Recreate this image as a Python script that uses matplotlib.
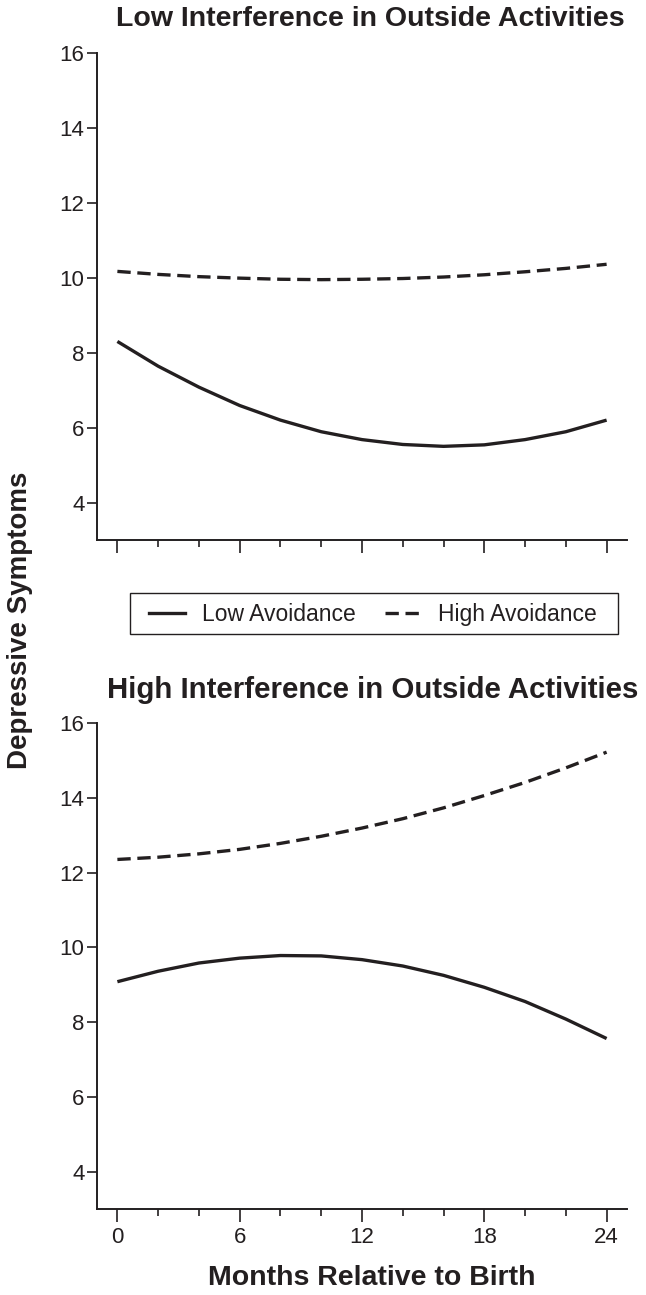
import matplotlib
matplotlib.use("Agg")
import matplotlib.pyplot as plt
from matplotlib.lines import Line2D
from matplotlib.patches import Rectangle
from matplotlib.ticker import MultipleLocator

plt.rcParams['font.family'] = ['Liberation Sans', 'DejaVu Sans']

# Months relative to birth
months = [0, 2, 4, 6, 8, 10, 12, 14, 16, 18, 20, 22, 24]

# Low interference in outside activities
low_int_low_avoid = [8.30, 7.64, 7.08, 6.59, 6.20, 5.89, 5.68, 5.55, 5.50, 5.54, 5.68, 5.89, 6.20]
low_int_high_avoid = [10.17, 10.09, 10.03, 9.99, 9.96, 9.95, 9.96, 9.98, 10.02, 10.08, 10.16, 10.25, 10.36]

# High interference in outside activities
high_int_low_avoid = [9.08, 9.36, 9.58, 9.71, 9.78, 9.77, 9.67, 9.50, 9.25, 8.93, 8.55, 8.08, 7.56]
high_int_high_avoid = [12.35, 12.41, 12.50, 12.62, 12.78, 12.97, 13.19, 13.44, 13.73, 14.06, 14.41, 14.80, 15.22]

titles = ["Low Interference in Outside Activities",
          "High Interference in Outside Activities"]
series_labels = ["Low Avoidance", "High Avoidance"]
x_ticks = [0, 6, 12, 18, 24]
y_ticks = [4, 6, 8, 10, 12, 14, 16]

INK = "#231f20"
DASH = (0, (4.0, 2.0))

fig = plt.figure(figsize=(6.46, 12.95), dpi=100)
W, H = 646, 1295

def ax_rect(left, right, top, bottom):
    return [left / W, 1 - bottom / H, (right - left) / W, (bottom - top) / H]

ax_top = fig.add_axes(ax_rect(97, 627, 53, 540))
ax_bot = fig.add_axes(ax_rect(97, 627, 723, 1209))

panels = [
    (ax_top, low_int_low_avoid, low_int_high_avoid, titles[0], False, 19, 20.5, 370),
    (ax_bot, high_int_low_avoid, high_int_high_avoid, titles[1], True, 690, 21.2, 373),
]

for ax, solid_vals, dashed_vals, title, show_xlabels, title_y, title_fs, title_x in panels:
    ax.plot(months, solid_vals, color=INK, lw=2.4, solid_capstyle='butt',
            solid_joinstyle='round')
    ax.plot(months, dashed_vals, color=INK, lw=2.4, linestyle=DASH)
    ax.set_xlim(-1, 25)
    ax.set_ylim(3, 16)
    for side in ("top", "right"):
        ax.spines[side].set_visible(False)
    for side in ("left", "bottom"):
        ax.spines[side].set_color(INK)
        ax.spines[side].set_linewidth(1.4)
    ax.set_yticks(y_ticks)
    ax.set_xticks(x_ticks)
    ax.xaxis.set_minor_locator(MultipleLocator(2))
    ax.tick_params(axis='y', direction='out', length=7, width=1.2, color=INK,
                   labelsize=16, labelcolor=INK, pad=2)
    ax.tick_params(axis='x', which='major', direction='out', length=9, width=1.2,
                   color=INK, labelsize=16, labelcolor=INK, pad=4)
    ax.tick_params(axis='x', which='minor', direction='out', length=5, width=1.2,
                   color=INK)
    if not show_xlabels:
        ax.tick_params(axis='x', labelbottom=False)
    fig.text(title_x / W, 1 - title_y / H, title, fontsize=title_fs,
             fontweight='bold', color=INK, ha='center', va='center')

fig.text(372 / W, 1 - 1278 / H, "Months Relative to Birth", fontsize=20.5,
         fontweight='bold', color=INK, ha='center', va='center')

fig.text(20 / W, 1 - 620 / H, "Depressive Symptoms", rotation=90,
         fontsize=20, fontweight='bold', color=INK, ha='center', va='center')

# Shared legend between the two panels, with its own box
handles = [Line2D([0], [0], color=INK, lw=2.4),
           Line2D([0], [0], color=INK, lw=2.4, linestyle=DASH)]
leg = fig.legend(handles, series_labels, loc='center',
                 bbox_to_anchor=(373 / W, 1 - 615 / H), ncol=2,
                 frameon=False, fontsize=16.5,
                 handlelength=1.55, columnspacing=1.3, handletextpad=0.75,
                 borderpad=0.35, borderaxespad=0)
for t in leg.get_texts():
    t.set_color(INK)
fig.patches.append(Rectangle((130 / W, 1 - 634 / H), (618 - 130) / W, 41 / H,
                             transform=fig.transFigure, fill=False,
                             edgecolor=INK, linewidth=1.0))

fig.savefig("out.png", dpi=100, facecolor="white")
